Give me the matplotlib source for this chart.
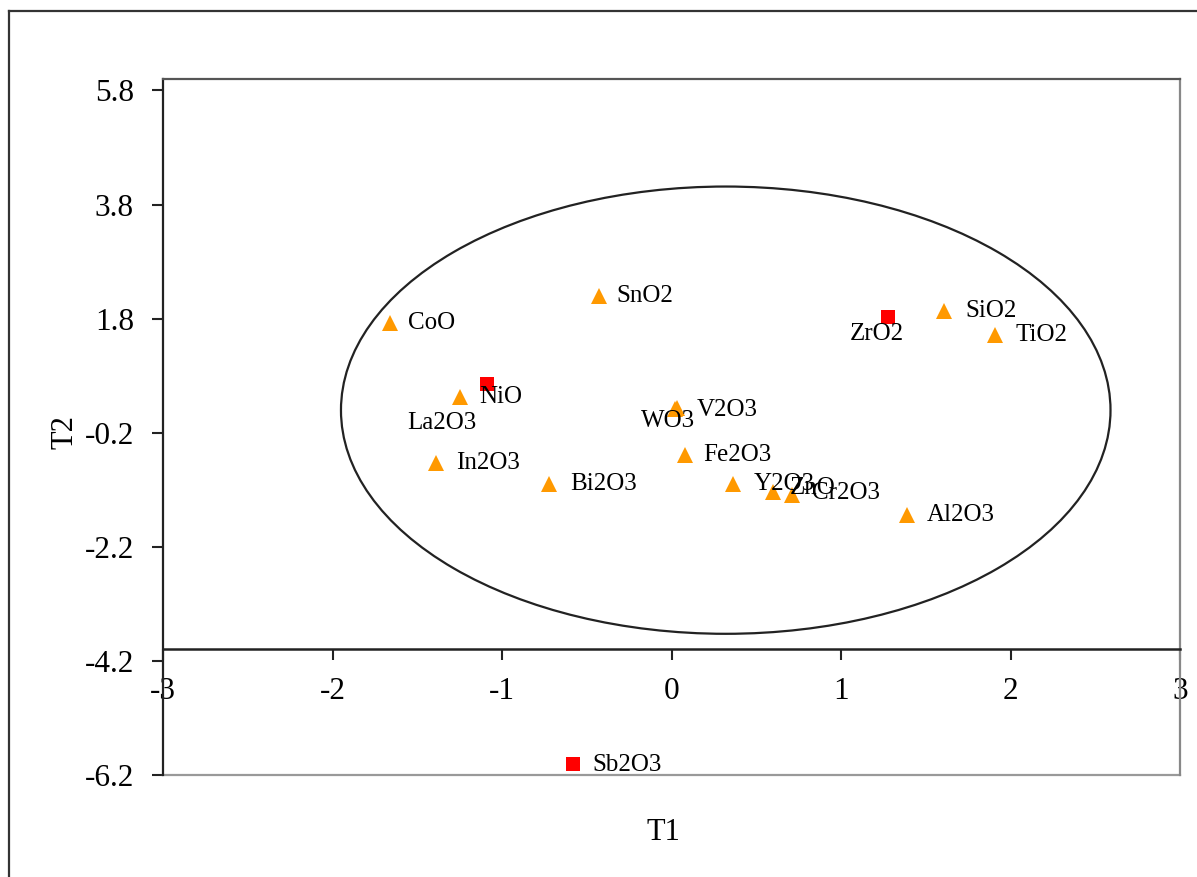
import matplotlib
matplotlib.use("Agg")
import matplotlib.pyplot as plt
from matplotlib.patches import Ellipse
from matplotlib.lines import Line2D

plt.rcParams['font.family'] = ['Liberation Serif', 'DejaVu Serif']

# oxydes (triangles oranges)
noms_tri = ["CoO", "SnO2", "SiO2", "TiO2", "La2O3", "WO3", "V2O3", "In2O3",
            "Fe2O3", "Bi2O3", "Y2O3", "ZnO", "Cr2O3", "Al2O3"]
t1_tri = [-1.66, -0.43, 1.61, 1.91, -1.25, 0.02, 0.03, -1.39,
          0.08, -0.72, 0.36, 0.60, 0.71, 1.39]
t2_tri = [1.72, 2.19, 1.93, 1.51, 0.42, 0.21, 0.23, -0.73,
          -0.59, -1.10, -1.10, -1.24, -1.30, -1.65]

# oxydes (carres rouges)
noms_sq = ["ZrO2", "NiO", "Sb2O3"]
t1_sq = [1.28, -1.09, -0.58]
t2_sq = [1.82, 0.65, -6.01]

xticks = [-3, -2, -1, 0, 1, 2, 3]
yticks = [-6.2, -4.2, -2.2, -0.2, 1.8, 3.8, 5.8]

# decalage des etiquettes en pixels (dx, dy vers le bas, alignement)
decalage = {
    "CoO": (18, 0, 'left'), "SnO2": (18, 0, 'left'), "SiO2": (21, 0, 'left'),
    "TiO2": (20, 0, 'left'), "La2O3": (-18, 26, 'center'), "WO3": (-7, 12, 'center'),
    "V2O3": (20, 2, 'left'), "In2O3": (20, 0, 'left'), "Fe2O3": (18, 0, 'left'),
    "Bi2O3": (21, 0, 'left'), "Y2O3": (21, 0, 'left'), "ZnO": (17, -4, 'left'),
    "Cr2O3": (20, -2, 'left'), "Al2O3": (20, 0, 'left'), "ZrO2": (-12, 17, 'center'),
    "NiO": (-8, 13, 'left'), "Sb2O3": (19, 1, 'left'),
}

fig = plt.figure(figsize=(11.97, 8.77), dpi=100)
ax = fig.add_axes([163/1197, 1 - 775/877, 1017/1197, 696/877])

ax.set_xlim(-3, 3)
ax.set_ylim(-6.2, 6.0)

# ellipse
ax.add_patch(Ellipse((0.32, 0.195), 4.54, 7.84, fill=False, edgecolor='#222222', lw=1.6))

ax.plot(t1_tri, t2_tri, linestyle='none', marker='^', markersize=12,
        color='#FF9900', markeredgewidth=0, zorder=3)
ax.plot(t1_sq, t2_sq, linestyle='none', marker='s', markersize=10,
        color='#FF0000', markeredgewidth=0, zorder=3)

for noms, xs, ys in [(noms_tri, t1_tri, t2_tri), (noms_sq, t1_sq, t2_sq)]:
    for n, x, y in zip(noms, xs, ys):
        dx, dy, ha = decalage[n]
        ax.annotate(n, (x, y), xytext=(dx * 0.72, -dy * 0.72), textcoords='offset points',
                    ha=ha, va='center', fontsize=18, color='black', zorder=4)

# axes
ax.spines['bottom'].set_position(('data', -4.0))
ax.spines['bottom'].set_color('#222222')
ax.spines['bottom'].set_linewidth(1.8)
ax.spines['left'].set_color('#222222')
ax.spines['left'].set_linewidth(1.6)
ax.spines['top'].set_color('#555555')
ax.spines['top'].set_linewidth(1.6)
ax.spines['right'].set_color('#888888')
ax.spines['right'].set_linewidth(1.6)
ax.axhline(-6.2, color='#999999', lw=1.6, clip_on=False)

ax.set_xticks(xticks)
ax.set_xticklabels([str(v) for v in xticks])
ax.set_yticks(yticks)
ax.set_yticklabels([f"{v:.1f}" for v in yticks])
ax.tick_params(axis='x', direction='out', length=8, width=1.5, pad=12, labelsize=22.5, color='#222222')
ax.tick_params(axis='y', direction='out', length=8, width=1.5, pad=13, labelsize=22.5, color='#222222')

ax.set_xlabel('T1', fontsize=22, va='center')
ax.xaxis.set_label_coords((663 - 163) / 1017, (775 - 833) / 696)
ax.set_ylabel('T2', fontsize=22, va='center')
ax.yaxis.set_label_coords((65 - 163) / 1017, (775 - 432) / 696)

# cadre exterieur
fig.add_artist(Line2D([9/1197, 9/1197], [0, 1 - 11/877], transform=fig.transFigure, color='#333333', lw=1.6))
fig.add_artist(Line2D([9/1197, 1], [1 - 11/877, 1 - 11/877], transform=fig.transFigure, color='#333333', lw=1.6))

fig.savefig('out.png', dpi=100)
